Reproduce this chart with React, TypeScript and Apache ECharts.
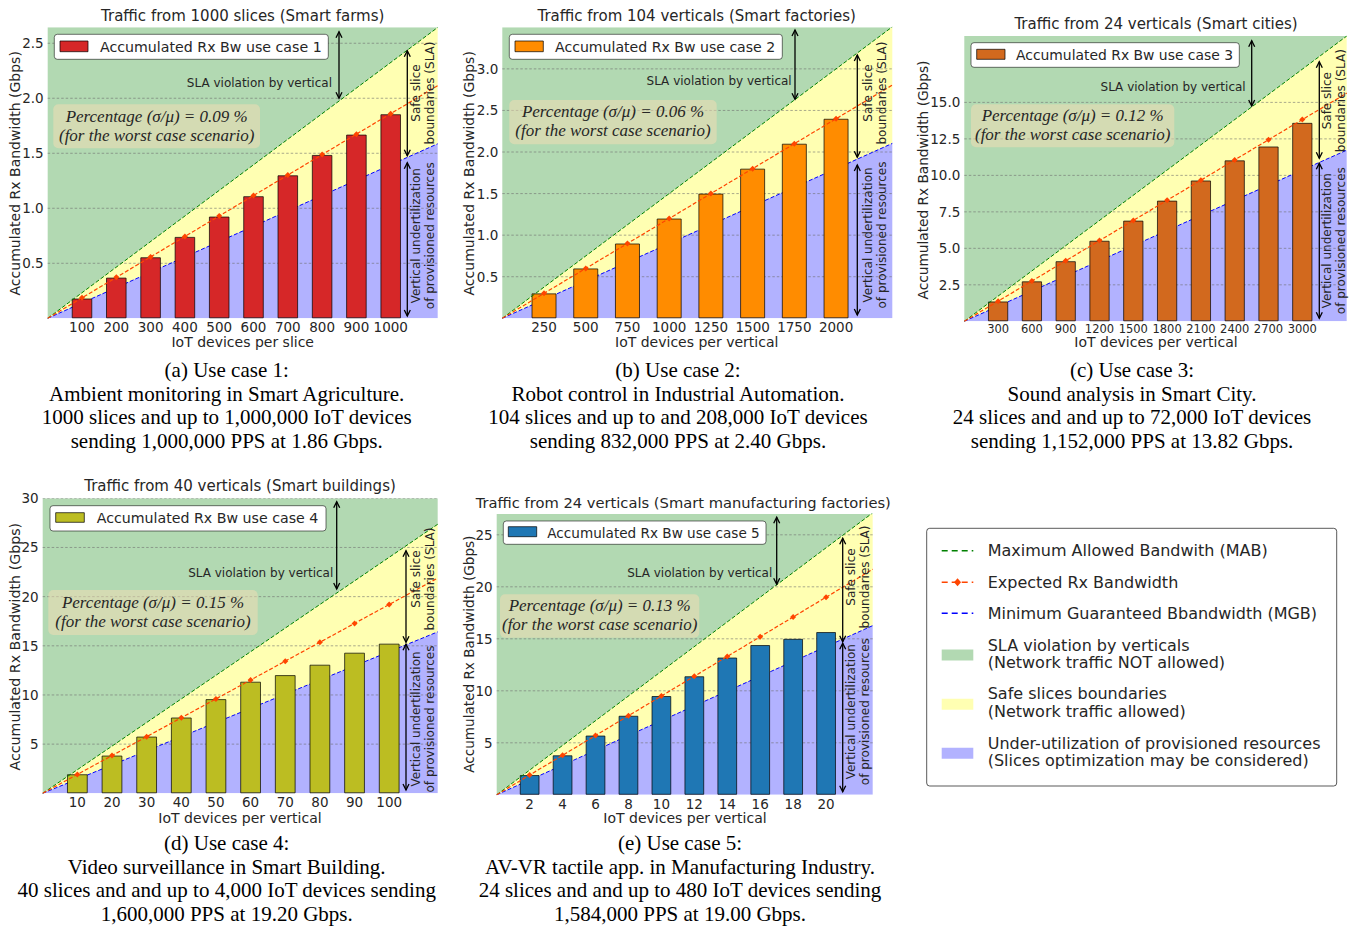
import React, { useEffect, useRef } from 'react';
import * as echarts from 'echarts';

// ---------------- Data ----------------
const uc1Devices = [100, 200, 300, 400, 500, 600, 700, 800, 900, 1000];
const uc1Measured = [0.18, 0.37, 0.555, 0.74, 0.925, 1.11, 1.3, 1.485, 1.67, 1.855];
const uc1Expected = [0.186, 0.372, 0.558, 0.744, 0.93, 1.116, 1.302, 1.488, 1.674, 1.86];
const uc1YTicks = [0.5, 1.0, 1.5, 2.0, 2.5];

const uc2Devices = [250, 500, 750, 1000, 1250, 1500, 1750, 2000];
const uc2Measured = [0.3, 0.6, 0.9, 1.2, 1.5, 1.8, 2.1, 2.4];
const uc2Expected = [0.3, 0.6, 0.9, 1.2, 1.5, 1.8, 2.1, 2.4];
const uc2YTicks = [0.5, 1.0, 1.5, 2.0, 2.5, 3.0];

const uc3Devices = [300, 600, 900, 1200, 1500, 1800, 2100, 2400, 2700, 3000];
const uc3Measured = [1.36, 2.74, 4.12, 5.52, 6.9, 8.27, 9.65, 11.03, 11.98, 13.6];
const uc3Expected = [1.38, 2.76, 4.15, 5.53, 6.91, 8.29, 9.67, 11.06, 12.44, 13.82];
const uc3YTicks = [2.5, 5.0, 7.5, 10.0, 12.5, 15.0];

const uc4Devices = [10, 20, 30, 40, 50, 60, 70, 80, 90, 100];
const uc4Measured = [1.94, 3.84, 5.77, 7.71, 9.58, 11.35, 12.02, 13.08, 14.3, 15.22];
const uc4Expected = [1.92, 3.84, 5.76, 7.68, 9.6, 11.52, 13.44, 15.36, 17.28, 19.2];
const uc4YTicks = [5, 10, 15, 20, 25, 30];

const uc5Devices = [2, 4, 6, 8, 10, 12, 14, 16, 18, 20];
const uc5Measured = [1.9, 3.8, 5.7, 7.6, 9.5, 11.4, 13.2, 14.4, 15.0, 15.65];
const uc5Expected = [1.9, 3.8, 5.7, 7.6, 9.5, 11.4, 13.3, 15.2, 17.1, 19.0];
const uc5YTicks = [5, 10, 15, 20, 25];

const MAB_FACTOR = 1.25;
const MGB_FACTOR = 0.75;

const titles = [
  'Traffic from 1000 slices (Smart farms)',
  'Traffic from 104 verticals (Smart factories)',
  'Traffic from 24 verticals (Smart cities)',
  'Traffic from 40 verticals (Smart buildings)',
  'Traffic from 24 verticals (Smart manufacturing factories)',
];
const xNames = [
  'IoT devices per slice',
  'IoT devices per vertical',
  'IoT devices per vertical',
  'IoT devices per vertical',
  'IoT devices per vertical',
];
const percentages = ['0.09', '0.06', '0.12', '0.15', '0.13'];
const captions = [
  ['(a) Use case 1:', 'Ambient monitoring in Smart Agriculture.', '1000 slices and up to 1,000,000 IoT devices', 'sending 1,000,000 PPS at 1.86 Gbps.'],
  ['(b) Use case 2:', 'Robot control in Industrial Automation.', '104 slices and up to and 208,000 IoT devices', 'sending 832,000 PPS at 2.40 Gbps.'],
  ['(c) Use case 3:', 'Sound analysis in Smart City.', '24 slices and and up to 72,000 IoT devices', 'sending 1,152,000 PPS at 13.82 Gbps.'],
  ['(d) Use case 4:', 'Video surveillance in Smart Building.', '40 slices and and up to 4,000 IoT devices sending', '1,600,000 PPS at 19.20 Gbps.'],
  ['(e) Use case 5:', 'AV-VR tactile app. in Manufacturing Industry.', '24 slices and and up to 480 IoT devices sending', '1,584,000 PPS at 19.00 Gbps.'],
];
const legendLabels = [
  'Maximum Allowed Bandwith (MAB)',
  'Expected Rx Bandwidth',
  'Minimum Guaranteed Bbandwidth (MGB)',
  'SLA violation by verticals\n(Network traffic NOT allowed)',
  'Safe slices boundaries\n(Network traffic allowed)',
  'Under-utilization of provisioned resources\n(Slices optimization may be considered)',
];

// ---------------- Styling / layout ----------------
const SANS = "'DejaVu Sans', sans-serif";
const SERIF = "'Liberation Serif', 'Times New Roman', serif";
const TXT = '#262626';
const GREEN_FILL = 'rgba(0,128,0,0.3)';
const YELLOW_FILL = 'rgba(255,255,0,0.3)';
const BLUE_FILL = 'rgba(0,0,255,0.3)';

const panels = [
  {
    devices: uc1Devices, measured: uc1Measured, expected: uc1Expected, yTicks: uc1YTicks, yDec: 1, color: '#d62728',
    L: {
      grid: [47.7, 27.3, 390, 291], xMax: 1137, yMax: 2.645, yStep: 0.5, xFont: 13.5, xMargin: 2,
      titleFont: 15, legFont: 14.2, yNameFont: 14,
      title: [242.7, 15.7], xName: [242.7, 342], yName: [15, 173.3],
      legBox: [54.3, 34.3, 274, 25], patch: [60, 41, 28, 10.7], legText: [100, 46.8],
      pctBox: [53.3, 104.3, 206.7, 44], pctY: [116.7, 135], pctX: 156.7,
      sla: [332, 83], a1: [339, 31.7, 98.3], a2: [407.3, 50.7, 155.7], a3: [162.7, 316],
      safe: [423, 93], under: [423, 235.7], cap: [226.7, 370],
    },
  },
  {
    devices: uc2Devices, measured: uc2Measured, expected: uc2Expected, yTicks: uc2YTicks, yDec: 1, color: '#ff8c00',
    L: {
      grid: [502.3, 27.3, 390, 291], xMax: 2337, yMax: 3.5, yStep: 0.5, xFont: 13.5, xMargin: 2,
      titleFont: 15, legFont: 14.1, yNameFont: 14,
      title: [696.7, 15.7], xName: [696.7, 342], yName: [469.3, 173.3],
      legBox: [509.3, 34.3, 273, 25], patch: [515, 41, 28.3, 10.7], legText: [555, 46.8],
      pctBox: [509.3, 100, 207.4, 44.3], pctY: [111, 130], pctX: 613,
      sla: [791.7, 81], a1: [795, 30, 99.3], a2: [857.3, 55, 157.3], a3: [165, 315],
      safe: [875, 93], under: [875, 235], cap: [678, 370],
    },
  },
  {
    devices: uc3Devices, measured: uc3Measured, expected: uc3Expected, yTicks: uc3YTicks, yDec: 1, color: '#d2691e',
    L: {
      grid: [964.3, 36, 382.4, 285.3], xMax: 3394, yMax: 19.55, yStep: 2.5, xFont: 11.5, xMargin: 2,
      titleFont: 15, legFont: 13.9, yNameFont: 13.7,
      title: [1156, 24.3], xName: [1156, 342], yName: [923.3, 180],
      legBox: [971, 42.7, 268.3, 24.6], patch: [976.7, 49.3, 28.3, 10], legText: [1016, 55],
      pctBox: [971, 104.3, 203.3, 43], pctY: [115.7, 134], pctX: 1072.7,
      sla: [1245.7, 87.3], a1: [1251.7, 40.7, 106], a2: [1319.3, 61.7, 158.3], a3: [163.3, 318.3],
      safe: [1334, 100.7], under: [1334, 240.7], cap: [1132, 370],
    },
  },
  {
    devices: uc4Devices, measured: uc4Measured, expected: uc4Expected, yTicks: uc4YTicks, yDec: 0, color: '#bcbd22',
    L: {
      grid: [42.7, 498.3, 395, 295], xMax: 114, yMax: 30, yStep: 5, xFont: 13.5, xMargin: 2,
      titleFont: 15, legFont: 14.2, yNameFont: 14.2,
      title: [240, 486], xName: [240, 818], yName: [15, 646.7],
      legBox: [50, 505.7, 276, 25.3], patch: [55.7, 512.7, 28.6, 9.6], legText: [96.7, 518.3],
      pctBox: [48.3, 590, 209.4, 45], pctY: [602.3, 621.7], pctX: 153,
      sla: [333.3, 572.7], a1: [336.7, 501.7, 589], a2: [406, 550.7, 642.3], a3: [644.3, 790],
      safe: [423, 579], under: [423, 719], cap: [226.7, 843],
    },
  },
  {
    devices: uc5Devices, measured: uc5Measured, expected: uc5Expected, yTicks: uc5YTicks, yDec: 0, color: '#1f77b4',
    L: {
      grid: [496.7, 514, 376, 280.8], xMax: 22.83, yMax: 27.0, yStep: 5, xFont: 13.5, xMargin: 2,
      titleFont: 14.7, legFont: 13.6, yNameFont: 13.6,
      title: [683.3, 502.3], xName: [685, 818], yName: [469.3, 654.2],
      legBox: [503.3, 521, 262.7, 23.3], patch: [508.3, 526.7, 28.4, 10], legText: [547.3, 532.7],
      pctBox: [500, 594.3, 199.3, 43.4], pctY: [605.7, 624], pctX: 599.7,
      sla: [772.3, 572.7], a1: [776.7, 517.3, 584.3], a2: [842.7, 538.3, 641.7], a3: [643.3, 791.7],
      safe: [857.7, 577], under: [857.7, 711.7], cap: [680, 843],
    },
  },
];

function text(x: number, y: number, t: string, font: string, o: any = {}) {
  return {
    type: 'text', x, y, rotation: o.rot || 0, silent: true, z: 100,
    style: {
      text: t, font, fill: o.fill || TXT,
      textAlign: o.align || 'center', textVerticalAlign: o.valign || 'middle',
      lineHeight: o.lh,
    },
  };
}

function arrow(x: number, y1: number, y2: number) {
  const s = { stroke: '#000', lineWidth: 1.3, fill: 'none' };
  return [
    { type: 'line', silent: true, z: 100, shape: { x1: x, y1, x2: x, y2 }, style: s },
    { type: 'polyline', silent: true, z: 100, shape: { points: [[x - 3, y1 + 6], [x, y1], [x + 3, y1 + 6]] }, style: s },
    { type: 'polyline', silent: true, z: 100, shape: { points: [[x - 3, y2 - 6], [x, y2], [x + 3, y2 - 6]] }, style: s },
  ];
}

function buildOption() {
  const grid: any[] = [];
  const xAxis: any[] = [];
  const yAxis: any[] = [];
  const series: any[] = [];
  const els: any[] = [];

  panels.forEach((p, i) => {
    const L: any = p.L;
    const n = p.devices.length;
    const step = p.devices[1] - p.devices[0];
    const slope = p.expected[n - 1] / p.devices[n - 1];
    const xMax = L.xMax;
    const yMax = L.yMax;
    const eEnd = slope * xMax;
    const mabEnd = eEnd * MAB_FACTOR;
    const mgbEnd = eEnd * MGB_FACTOR;
    const yTicks = p.yTicks;

    grid.push({ left: L.grid[0], top: L.grid[1], width: L.grid[2], height: L.grid[3], containLabel: false });
    xAxis.push({
      type: 'value', gridIndex: i, min: 0, max: xMax, interval: step,
      axisLine: { show: false }, axisTick: { show: false }, splitLine: { show: false },
      axisLabel: {
        margin: L.xMargin, fontSize: L.xFont, fontFamily: SANS, color: TXT, showMinLabel: true, showMaxLabel: true,
        formatter: (v: number) => (p.devices.some((d) => Math.abs(d - v) < 1e-6) ? String(v) : ''),
      },
    });
    yAxis.push({
      type: 'value', gridIndex: i, min: 0, max: yMax, interval: L.yStep,
      axisLine: { show: false }, axisTick: { show: false }, splitLine: { show: false },
      axisLabel: {
        margin: 4, fontSize: 13.5, fontFamily: SANS, color: TXT,
        formatter: (v: number) => (yTicks.some((t) => Math.abs(t - v) < 1e-6) ? v.toFixed(p.yDec) : ''),
      },
    });

    // background regions + grid lines
    series.push({
      type: 'custom', xAxisIndex: i, yAxisIndex: i, data: [[0, 0]], z: 1, silent: true, clip: true,
      renderItem: (_params: any, api: any) => {
        const c = (x: number, y: number) => api.coord([x, y]);
        const children: any[] = [
          { type: 'polygon', shape: { points: [c(0, 0), c(0, yMax), c(xMax, yMax), c(xMax, mabEnd)] }, style: { fill: GREEN_FILL } },
          { type: 'polygon', shape: { points: [c(0, 0), c(xMax, mabEnd), c(xMax, mgbEnd)] }, style: { fill: YELLOW_FILL } },
          { type: 'polygon', shape: { points: [c(0, 0), c(xMax, mgbEnd), c(xMax, 0)] }, style: { fill: BLUE_FILL } },
        ];
        yTicks.forEach((t) => {
          const a = c(0, t);
          const b = c(xMax, t);
          children.push({
            type: 'line', shape: { x1: a[0], y1: a[1], x2: b[0], y2: b[1] },
            style: { stroke: 'rgba(110,110,110,0.75)', lineWidth: 0.8, lineDash: [2.5, 2] },
          });
        });
        return { type: 'group', children };
      },
    });

    // MGB line (behind bars)
    series.push({
      type: 'line', xAxisIndex: i, yAxisIndex: i, data: [[0, 0], [xMax, mgbEnd]], symbol: 'none', z: 2,
      silent: true, clip: true, lineStyle: { color: '#0000ff', width: 1, type: [4, 2] },
    });

    // measured bars
    series.push({
      type: 'bar', xAxisIndex: i, yAxisIndex: i, z: 3, silent: true,
      data: p.devices.map((d, k) => [d, p.measured[k]]),
      barWidth: 0.6 * step * (L.grid[2] / xMax),
      itemStyle: { color: p.color, borderColor: 'rgba(0,0,0,0.7)', borderWidth: 1 },
    });

    // MAB line
    series.push({
      type: 'line', xAxisIndex: i, yAxisIndex: i, data: [[0, 0], [xMax, mabEnd]], symbol: 'none', z: 4,
      silent: true, clip: true, lineStyle: { color: '#008000', width: 1, type: [4, 2] },
    });

    // expected line with markers
    const expData: any[] = [{ value: [0, 0], symbol: 'none' }];
    p.devices.forEach((d, k) => expData.push({ value: [d, p.expected[k]] }));
    expData.push({ value: [xMax, eEnd], symbol: 'none' });
    series.push({
      type: 'line', xAxisIndex: i, yAxisIndex: i, data: expData, z: 5, silent: true, clip: true,
      symbol: 'diamond', symbolSize: 6, showSymbol: true,
      itemStyle: { color: '#ff4500' },
      lineStyle: { color: '#ff4500', width: 1.2, type: [4, 2] },
    });

    // ---- annotations ----
    els.push(text(L.title[0], L.title[1], titles[i], `${L.titleFont}px ${SANS}`));
    els.push(text(L.xName[0], L.xName[1], xNames[i], `14px ${SANS}`));
    els.push(text(L.yName[0], L.yName[1], 'Accumulated Rx Bandwidth (Gbps)', `${L.yNameFont}px ${SANS}`, { rot: Math.PI / 2 }));

    // in-plot legend
    els.push({
      type: 'rect', silent: true, z: 90,
      shape: { x: L.legBox[0], y: L.legBox[1], width: L.legBox[2], height: L.legBox[3], r: 3 },
      style: { fill: '#ffffff', stroke: 'rgba(0,0,0,0.55)', lineWidth: 1 },
    });
    els.push({
      type: 'rect', silent: true, z: 91,
      shape: { x: L.patch[0], y: L.patch[1], width: L.patch[2], height: L.patch[3] },
      style: { fill: p.color, stroke: 'rgba(0,0,0,0.7)', lineWidth: 1 },
    });
    els.push(text(L.legText[0], L.legText[1], `Accumulated Rx Bw use case ${i + 1}`, `${L.legFont}px ${SANS}`, { align: 'left' }));

    // percentage box
    els.push({
      type: 'rect', silent: true, z: 90,
      shape: { x: L.pctBox[0], y: L.pctBox[1], width: L.pctBox[2], height: L.pctBox[3], r: 5 },
      style: { fill: 'rgba(245,222,179,0.5)' },
    });
    els.push(text(L.pctX, L.pctY[0], `Percentage (σ/μ) = ${percentages[i]} %`, `italic 17px ${SERIF}`));
    els.push(text(L.pctX, L.pctY[1], '(for the worst case scenario)', `italic 17px ${SERIF}`));

    // SLA text + arrows
    els.push(text(L.sla[0], L.sla[1], 'SLA violation by vertical', `12px ${SANS}`, { align: 'right' }));
    arrow(L.a1[0], L.a1[1], L.a1[2]).forEach((e) => els.push(e));
    arrow(L.a2[0], L.a2[1], L.a2[2]).forEach((e) => els.push(e));
    arrow(L.a2[0], L.a3[0], L.a3[1]).forEach((e) => els.push(e));
    els.push(text(L.safe[0], L.safe[1], 'Safe slice\nboundaries (SLA)', `12px ${SANS}`, { rot: Math.PI / 2, lh: 14 }));
    els.push(text(L.under[0], L.under[1], 'Vertical undertilization\nof provisioned resources', `12px ${SANS}`, { rot: Math.PI / 2, lh: 14 }));

    // caption
    captions[i].forEach((line, k) => {
      els.push(text(L.cap[0], L.cap[1] + k * 23.5, line, `21px ${SERIF}`, { fill: '#000' }));
    });
  });

  // ---- global legend ----
  const bx = 926.7, by = 528.3;
  els.push({
    type: 'rect', silent: true, z: 90,
    shape: { x: bx, y: by, width: 410, height: 257.7, r: 3 },
    style: { fill: '#ffffff', stroke: 'rgba(0,0,0,0.65)', lineWidth: 1 },
  });
  const lx1 = 941.7, lx2 = 973.3, tx = 987.7;
  const lineRows = [
    { y: 550.7, color: '#008000' },
    { y: 582.3, color: '#ff4500', marker: true },
    { y: 613.3, color: '#0000ff' },
  ];
  lineRows.forEach((r, k) => {
    els.push({
      type: 'line', silent: true, z: 91,
      shape: { x1: lx1, y1: r.y, x2: lx2, y2: r.y },
      style: { stroke: r.color, lineWidth: 1.6, lineDash: [6, 4] },
    });
    if (r.marker) {
      const cx = (lx1 + lx2) / 2;
      els.push({
        type: 'polygon', silent: true, z: 92,
        shape: { points: [[cx, r.y - 4], [cx + 3.5, r.y], [cx, r.y + 4], [cx - 3.5, r.y]] },
        style: { fill: r.color },
      });
    }
    els.push(text(tx, r.y, legendLabels[k], `16px ${SANS}`, { align: 'left' }));
  });
  const patchRows = [
    { y: 655, ty: 654, fill: GREEN_FILL },
    { y: 704.3, ty: 702.8, fill: YELLOW_FILL },
    { y: 753.3, ty: 752, fill: BLUE_FILL },
  ];
  patchRows.forEach((r, k) => {
    els.push({
      type: 'rect', silent: true, z: 91,
      shape: { x: lx1, y: r.y - 5.5, width: lx2 - lx1, height: 11 },
      style: { fill: r.fill },
    });
    els.push(text(tx, r.ty, legendLabels[3 + k], `16px ${SANS}`, { align: 'left', lh: 17.7 }));
  });

  return {
    animation: false,
    backgroundColor: '#ffffff',
    grid, xAxis, yAxis, series,
    graphic: { elements: els },
  };
}

export default function App() {
  const ref = useRef<HTMLDivElement>(null);
  useEffect(() => {
    if (!ref.current) return;
    const chart = echarts.init(ref.current, null, { renderer: 'svg' });
    chart.setOption(buildOption() as any);
    return () => chart.dispose();
  }, []);
  return (
    <div
      ref={ref}
      style={{ position: 'absolute', left: 0, top: 0, width: 1351, height: 927, background: '#fff' }}
    />
  );
}
